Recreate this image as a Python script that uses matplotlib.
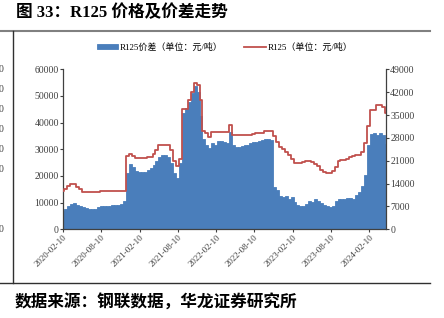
import numpy as np
import pandas as pd
import matplotlib
matplotlib.use("Agg")
import matplotlib.pyplot as plt
import matplotlib.dates as mdates

# biweekly observations from 2020-02-10
dates = pd.date_range("2020-02-10", periods=111, freq="14D")

# R125 spread (yuan/ton), left axis
spread = [
    7000, 7800, 8800, 9600, 9900, 9300, 8700, 8500, 8100, 7800,
    7600, 7700, 8200, 8600, 8700, 8800, 8900, 9000, 9100, 9200,
    9400, 10500, 21000, 24500, 23200, 22000, 21500, 21400, 21600, 22300,
    23000, 24000, 25500, 27000, 27800, 27700, 27000, 24700, 21200, 19200,
    25000, 43700, 45500, 47800, 51000, 53700, 51600, 42500, 34000, 31500,
    30500, 32500, 31800, 33000, 33300, 32800, 32300, 36500, 31500, 30800,
    31000, 31200, 31500, 31800, 32200, 32600, 32900, 33100, 33400, 33700,
    33800, 33600, 16000, 14800, 12500, 12000, 12500, 11200, 12000, 10300,
    9200, 8700, 8600, 9600, 10500, 10200, 11500, 10500, 9800, 9200,
    8800, 8500, 8800, 10500, 11500, 11300, 11500, 11900, 11600, 11200,
    12800, 14000, 16300, 20500, 31500, 35800, 36200, 35400, 36200, 35300,
    32000,
]

# R125 price (yuan/ton), right axis
price = [
    11700, 12200, 13200, 13900, 13800, 12900, 12300, 11400, 11300, 11300,
    11300, 11300, 11500, 11600, 11600, 11600, 11600, 11650, 11650, 11700,
    11700, 11850, 22500, 23100, 22600, 21900, 21800, 21800, 21800, 22050,
    22250, 23000, 24200, 25800, 25800, 25800, 25800, 24300, 21000, 19500,
    21500, 36700, 36800, 39600, 42000, 44900, 44300, 39500, 30000, 29600,
    28400, 29900, 29900, 29900, 29900, 29900, 29900, 31900, 29000, 29000,
    29000, 29000, 29000, 29000, 29000, 29100, 29600, 29600, 29600, 30200,
    30200, 30200, 28500, 26800, 25300, 24500, 23800, 22800, 21500, 20300,
    20400, 20400, 20500, 20800, 21000, 20500, 20100, 19300, 18300, 17500,
    17350, 17350, 17900, 19000, 20800, 21100, 21250, 21400, 22000, 22400,
    22700, 22700, 23600, 26500, 31500, 36500, 36400, 38000, 38100, 37600,
    35500,
]

tick_dates = pd.to_datetime(["2020-02-10", "2020-08-10", "2021-02-10", "2021-08-10",
                             "2022-02-10", "2022-08-10", "2023-02-10", "2023-08-10",
                             "2024-02-10"])
left_ticks = [0, 10000, 20000, 30000, 40000, 50000, 60000]
right_ticks = [0, 7000, 14000, 21000, 28000, 35000, 42000, 49000]

serif_cjk = ["Liberation Serif", "Noto Sans CJK SC"]
W, H = 444, 318
fig = plt.figure(figsize=(W / 100, H / 100), dpi=100)

ax = fig.add_axes([63 / W, 1 - 229.3 / H, (386 - 63) / W, 160 / H])
ax2 = ax.twinx()

bars = ax.bar(dates, spread, width=14, color="#4a7ebb", edgecolor="#4a7ebb",
              linewidth=0.6, label="R125价差（单位：元/吨）")
line, = ax2.plot(dates, price, color="#c0504d", lw=1.3, drawstyle="steps-mid",
                 label="R125（单位：元/吨）")

ax.set_xlim(dates[0], dates[-1])
ax.set_ylim(0, 60000)
ax2.set_ylim(0, 49000)
ax.set_yticks(left_ticks)
ax2.set_yticks(right_ticks)
ax.set_xticks(tick_dates)
ax.xaxis.set_major_formatter(mdates.DateFormatter("%Y-%m-%d"))

for a in (ax, ax2):
    for s in a.spines.values():
        s.set_color("#404040")
        s.set_linewidth(0.9)
    a.spines["top"].set_visible(False)
ax2.spines["left"].set_visible(False)
ax2.spines["bottom"].set_visible(False)
ax.spines["right"].set_visible(False)

ax.tick_params(axis="y", length=2, pad=1, labelsize=7, colors="#404040")
ax2.tick_params(axis="y", length=2, pad=1, labelsize=7, colors="#404040")
ax.tick_params(axis="x", length=2, pad=1, labelsize=6.5, colors="#404040")
for lab in ax.get_xticklabels() + ax.get_yticklabels() + ax2.get_yticklabels():
    lab.set_family(serif_cjk)
for lab in ax.get_xticklabels():
    lab.set_rotation(45)
    lab.set_ha("right")
    lab.set_va("top")
    lab.set_rotation_mode("anchor")

leg = ax.legend([bars, line], [bars.get_label(), line.get_label()], ncol=2,
                loc="center", bbox_to_anchor=(0.5, 1.14), frameon=False,
                prop={"family": serif_cjk, "size": 6.5}, handlelength=2.4,
                handleheight=0.5, handletextpad=0.15, columnspacing=2.4)

# page furniture around the chart
fig.text(16 / W, 1 - 13 / H, "图 33：R125 价格及价差走势", family=serif_cjk,
         fontsize=12, fontweight="bold", va="center", ha="left")
fig.add_artist(plt.Line2D([0, 430 / W], [1 - 31 / H, 1 - 31 / H], color="#808080", lw=1.5))
fig.add_artist(plt.Line2D([13 / W, 13 / W], [1 - 31 / H, 1 - 283 / H], color="#303030", lw=1))
fig.add_artist(plt.Line2D([0, 430 / W], [1 - 283 / H, 1 - 283 / H], color="#303030", lw=1))
fig.text(15 / W, 1 - 303 / H, "数据来源：钢联数据，华龙证券研究所",
         family=["Noto Sans CJK SC"], fontsize=12, fontweight="bold", va="center", ha="left")

# edge of the neighbouring chart's axis labels
for yp in [69, 89, 109, 129, 149, 169, 229]:
    fig.text(3 / W, 1 - yp / H, "0", family=serif_cjk, fontsize=7, color="#404040",
             ha="right", va="center")

fig.savefig("out.png", dpi=100)
